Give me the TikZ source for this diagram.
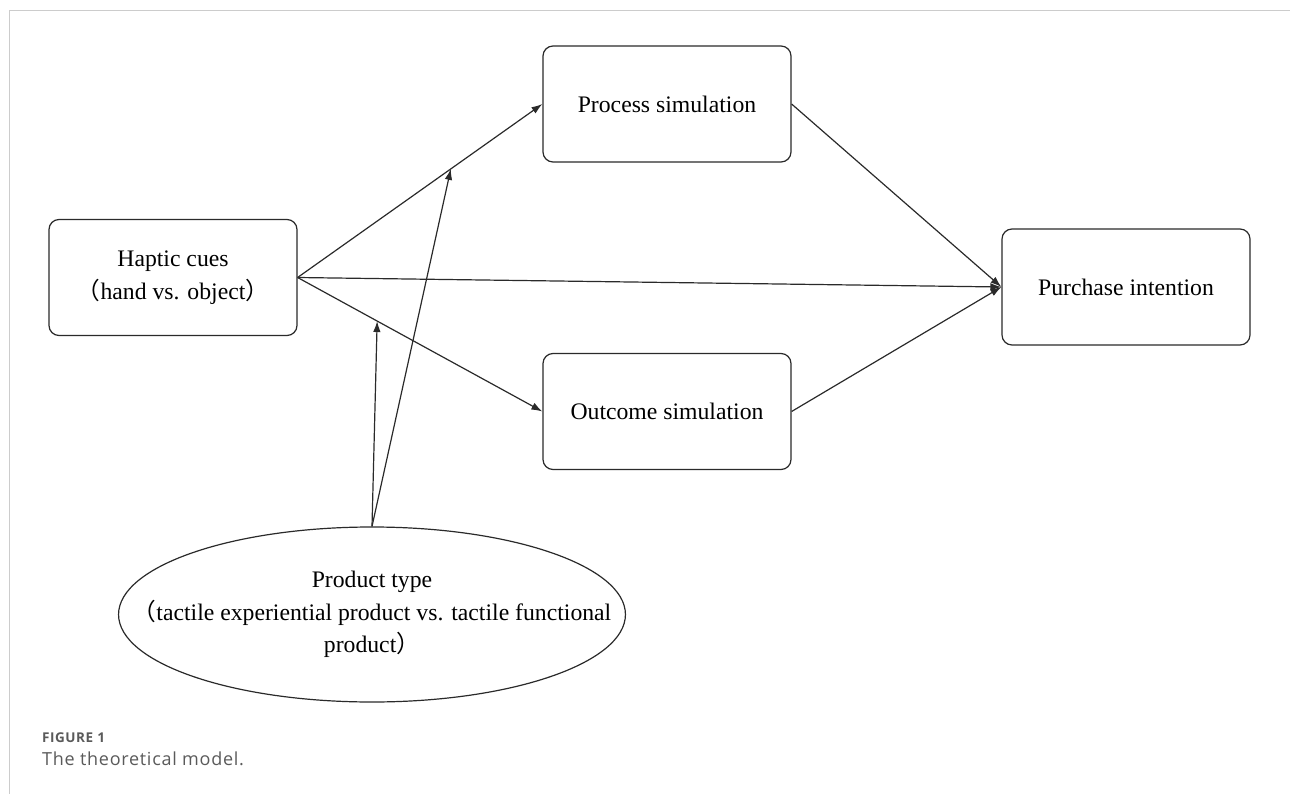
\documentclass[tikz,border=0pt]{standalone}
\usepackage{fontspec}
\setmainfont{Liberation Serif}
\newfontfamily\cjk{Noto Sans CJK SC}
\newfontfamily\capfont[LetterSpace=4]{Open Sans}
\usetikzlibrary{shapes.geometric,arrows.meta}
\definecolor{linegray}{HTML}{2A2A2A}
\definecolor{framegray}{HTML}{CCCCCC}
\definecolor{capgray}{HTML}{5A5A5A}
\begin{document}
\begin{tikzpicture}[x=1pt,y=-1pt,
  box/.style={draw=linegray,line width=1.2pt,rounded corners=10pt,minimum width=248pt,minimum height=116pt,inner sep=0pt,align=center,font=\fontsize{23.7}{33}\selectfont},
  oval/.style={draw=linegray,line width=1.2pt,ellipse,minimum width=500pt,minimum height=175pt,inner xsep=-60pt,inner ysep=0pt,align=center,font=\fontsize{23.7}{32.5}\selectfont},
  conn/.style={draw=linegray,line width=1.2pt,-{Latex[length=11pt,width=7.5pt]}}]
\useasboundingbox (0,0) rectangle (1290,794);
\draw[framegray,line width=1pt] (9.5,794) -- (9.5,10.5) -- (1290,10.5);
\node[box] (hap) at (173,277.5) {Haptic cues\\{\cjk （}hand vs. object{\cjk ）}};
\node[box] (pro) at (667,104) {Process simulation};
\node[box] (out) at (667,411.5) {Outcome simulation};
\node[box] (pur) at (1126,287) {Purchase intention};
\node[oval] (ptype) at (372,614.5) {Product type\\{\cjk （}tactile experiential product vs. tactile functional\\product{\cjk ）}};
\path (hap.east) -- (pro.west) coordinate[pos=0.626] (m2);
\path (hap.east) -- (out.west) coordinate[pos=0.325] (m1);
\draw[conn] (hap.east) -- (pro.west);
\draw[conn] (hap.east) -- (out.west);
\draw[conn] (hap.east) -- (pur.west);
\draw[conn] (pro.east) -- (pur.west);
\draw[conn] (out.east) -- (pur.west);
\draw[conn] (ptype.north) -- (m1);
\draw[conn] (ptype.north) -- (m2);
\node[anchor=base west,inner sep=0pt,text=capgray,font=\capfont\fontsize{13.5}{15}\selectfont\bfseries] (fig) at (42,742) {FIGURE 1};
\node[anchor=base west,inner sep=0pt,text=capgray,font=\capfont\fontsize{18}{20}\selectfont] (cap) at (42,765) {The theoretical model.};
\end{tikzpicture}
\end{document}
